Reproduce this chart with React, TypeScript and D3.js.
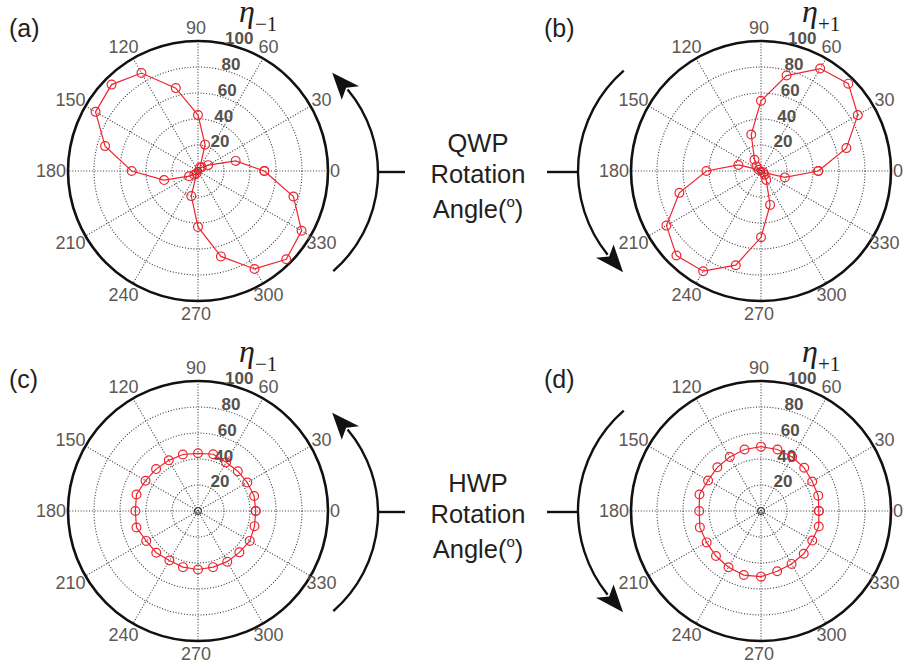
import React from 'react';
import * as d3 from 'd3';

// rotation angle of the wave plate (deg), 0..360 every 15
const angles = [0, 15, 30, 45, 60, 75, 90, 105, 120, 135, 150, 165, 180, 195, 210, 225, 240, 255, 270, 285, 300, 315, 330, 345, 360];

// diffraction efficiencies (%)
const etaMinusQwp = [51, 30, 9, 4, 3, 21, 43, 66, 87, 94, 91, 74, 51, 27, 8, 4, 2, 20, 43, 68, 87, 96, 92, 76, 51];
const etaPlusQwp = [44, 68, 86, 95, 91, 76, 54, 29, 10, 5, 2, 18, 42, 65, 84, 92, 89, 75, 51, 27, 8, 4, 2, 19, 44];
const etaMinusHwp = [44.4, 44.7, 43.8, 43.3, 43.2, 45.2, 44.4, 45, 45, 45.6, 46.6, 49, 48.2, 49, 46, 45.4, 44, 44.7, 45, 44.7, 45, 45, 46, 45, 44.4];
const etaPlusHwp = [44.5, 45.6, 45.5, 47, 48, 49, 49.5, 49, 48, 47.5, 47, 49, 47.5, 48.7, 48.3, 49, 50, 51, 50.5, 48, 47, 46.5, 45.5, 46, 44.5];

const angleTicks = [0, 30, 60, 90, 120, 150, 180, 210, 240, 270, 300, 330];
const rhoTicks = [20, 40, 60, 80, 100];

const W = 905;
const H = 666;
const R = 130;
const RED = '#ec2530';
const GRAY = '#5d5854';
const INK = '#231f20';
const GRID = '#3a3a3a';
const rad = (d: number) => (d * Math.PI) / 180;

const rScale = d3.scaleLinear().domain([0, 100]).range([0, R]);

const PolarPanel = ({ cx, cy, values, sub, tag, tagX, tagY }: any) => {
  const line = d3
    .lineRadial<number>()
    .angle((_d, i) => rad(90 - angles[i]))
    .radius((d) => rScale(d));

  return (
    <g>
      <g transform={`translate(${cx},${cy})`}>
        {/* grid rings */}
        {rhoTicks.map((t) => (
          <circle key={t} r={rScale(t)} fill="none" stroke={GRID} strokeWidth={1.1} strokeDasharray="1,1.8" />
        ))}
        <circle r={3.5} fill="none" stroke="#111" strokeWidth={1} />
        {/* spokes */}
        {angleTicks.slice(0, 6).map((a) => (
          <line
            key={a}
            x1={R * Math.cos(rad(a))}
            y1={-R * Math.sin(rad(a))}
            x2={-R * Math.cos(rad(a))}
            y2={R * Math.sin(rad(a))}
            stroke={GRID}
            strokeWidth={1.1}
            strokeDasharray="1,1.8"
          />
        ))}
        <circle r={R} fill="none" stroke="#111" strokeWidth={2.6} />
        {/* angle labels */}
        {angleTicks.map((a) => (
          <text
            key={a}
            x={(a === 0 ? 139 : 145) * Math.cos(rad(a)) - 2}
            y={-143 * Math.sin(rad(a))}
            textAnchor="middle"
            dominantBaseline="central"
            fontFamily="'Liberation Sans', Arial, sans-serif"
            fontSize={18}
            fill={GRAY}
          >
            {a}
          </text>
        ))}
        {/* radial labels */}
        {rhoTicks.map((t) => (
          <text
            key={t}
            x={rScale(t) * Math.cos(rad(82)) + 9}
            y={-rScale(t) * Math.sin(rad(82)) + 2}
            fontFamily="'Liberation Sans', Arial, sans-serif"
            fontWeight="bold"
            fontSize={17}
            fill="#55514d"
          >
            {t}
          </text>
        ))}
        {/* data */}
        <path d={line(values) || ''} fill="none" stroke={RED} strokeWidth={1.2} />
        {values.map((v: number, i: number) => (
          <circle
            key={i}
            cx={rScale(v) * Math.cos(rad(angles[i]))}
            cy={-rScale(v) * Math.sin(rad(angles[i]))}
            r={4.4}
            fill="none"
            stroke={RED}
            strokeWidth={1.2}
          />
        ))}
        {/* title */}
        <text x={41} y={-149} fontFamily="'Liberation Serif', 'Times New Roman', serif" fontStyle="italic" fontSize={32} fill={INK}>
          η
          <tspan fontStyle="normal" fontSize={21} dy={9}>
            {sub}
          </tspan>
        </text>
      </g>
      <text x={tagX} y={tagY} fontFamily="'Liberation Sans', Arial, sans-serif" fontSize={25} fill={INK}>
        {tag}
      </text>
    </g>
  );
};

// curved arrow indicating rotation direction
const RotationArrow = ({ ox, oy, r, from, to, tipAt }: any) => {
  // angles in math convention (deg, counter-clockwise)
  const pt = (deg: number, rr: number) => [ox + rr * Math.cos(rad(deg)), oy - rr * Math.sin(rad(deg))];
  const p = d3.path();
  const s = pt(from, r);
  p.moveTo(s[0], s[1]);
  p.arc(ox, oy, r, -rad(from), -rad(to), to > from);
  const dir = tipAt > to ? -1 : 1;
  const base = tipAt + dir * 12;
  const tip = pt(tipAt, r + 1);
  const c1 = pt(base, r - 11);
  const c2 = pt(base, r + 11);
  const notch = pt(base - dir * 3, r);
  return (
    <g>
      <path d={p.toString()} fill="none" stroke="#111" strokeWidth={2.4} />
      <path d={`M${tip[0]},${tip[1]}L${c1[0]},${c1[1]}L${notch[0]},${notch[1]}L${c2[0]},${c2[1]}Z`} fill="#111" />
    </g>
  );
};

const CenterText = ({ y, word }: any) => (
  <g fontFamily="'Liberation Sans', Arial, sans-serif" fontSize={25.5} fill={INK} textAnchor="middle">
    <text x={478} y={y}>{word}</text>
    <text x={478} y={y + 31.5}>Rotation</text>
    <text x={478} y={y + 66}>
      Angle(<tspan fontSize={15} dy={-11}>o</tspan>
      <tspan dy={11}>)</tspan>
    </text>
  </g>
);

const App = () => {
  const rows = [
    { cy: 171, top: etaMinusQwp, bottom: etaPlusQwp, tagY: 37, word: 'QWP' },
    { cy: 511, top: etaMinusHwp, bottom: etaPlusHwp, tagY: 388, word: 'HWP' },
  ];
  const tags = [
    ['(a)', '(b)'],
    ['(c)', '(d)'],
  ];
  return (
    <svg width={W} height={H} style={{ position: 'absolute', left: 0, top: 0, background: '#fff' }}>
      {rows.map((row, k) => (
        <g key={k}>
          <PolarPanel cx={198} cy={row.cy} values={row.top} sub="−1" tag={tags[k][0]} tagX={9} tagY={row.tagY} />
          <PolarPanel cx={761} cy={row.cy} values={row.bottom} sub="+1" tag={tags[k][1]} tagX={544} tagY={row.tagY} />
          <RotationArrow ox={248} oy={row.cy + 2} r={130} from={-49} to={40} tipAt={50} />
          <RotationArrow ox={711} oy={row.cy} r={133} from={131} to={219} tipAt={229} />
          <line x1={378} x2={405} y1={row.cy + 1} y2={row.cy + 1} stroke="#111" strokeWidth={2.4} />
          <line x1={547} x2={578} y1={row.cy + 1} y2={row.cy + 1} stroke="#111" strokeWidth={2.4} />
          <CenterText y={row.cy - 19.5} word={row.word} />
        </g>
      ))}
    </svg>
  );
};

export default App;
